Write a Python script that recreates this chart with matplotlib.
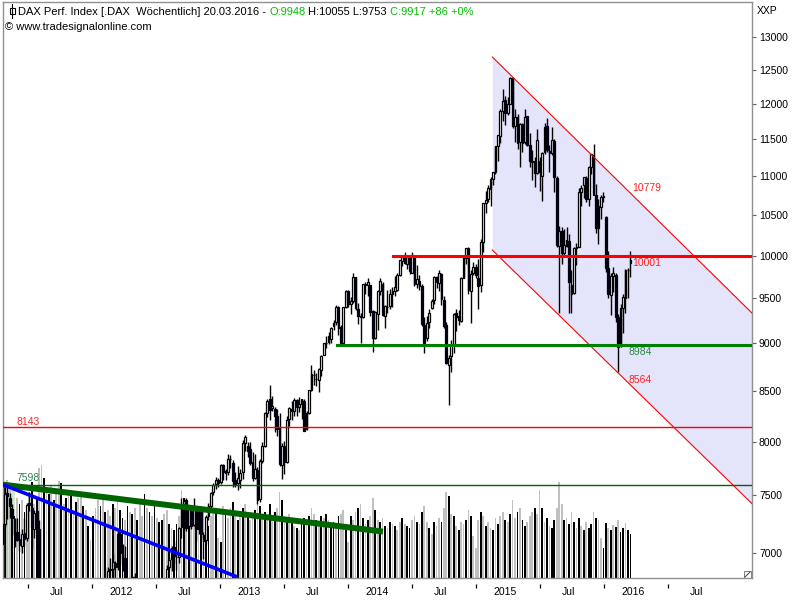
import datetime as dt
import numpy as np
import matplotlib
matplotlib.use("Agg")
import matplotlib.pyplot as plt
import matplotlib.dates as mdates
from matplotlib.lines import Line2D
from matplotlib.patches import Rectangle
from matplotlib.ticker import NullLocator, NullFormatter

plt.rcParams['font.family'] = ['Liberation Sans', 'DejaVu Sans']

# weekly DAX bars, first week starts Monday 2011-04-18
first_monday = dt.date(2011, 4, 18)

opens = [
    # 2011
    7074, 7246, 7520, 7480, 7380, 7290, 7180, 7120, 7060, 7170, 7130, 7430, 7390, 7200, 7360, 7200, 6200, 6000, 5480,
    5540, 5250, 5150, 5500, 5180, 5450, 5700, 5930, 5980, 6300, 5810, 5990, 5780, 5520, 6080, 5990, 5720, 5880,
    # 2012
    5900, 6060, 6150, 6410, 6500, 6770, 6700, 6860, 6870, 6920, 6880, 7160, 7000, 6960, 6770, 6600, 6650, 6800, 6520,
    6560, 6290, 6340, 5970, 6200, 6240, 6260, 6420, 6420, 6560, 6550, 6700, 6880, 6950, 7050, 6970, 6970, 7220, 7420,
    7460, 7230, 7380, 7240, 7370, 7200, 7360, 7150, 7110, 7320, 7410, 7530, 7600, 7640, 7620,
    # 2013
    7780, 7720, 7710, 7840, 7800, 7640, 7610, 7640, 7710, 7990, 7960, 7930, 7810, 7660, 7730, 7470, 7820, 7960, 8280,
    8420, 8330, 8320, 8250, 8140, 7780, 7960, 7810, 8220, 8320, 8300, 8410, 8340, 8370, 8400, 8120, 8280, 8510, 8670,
    8620, 8610, 8720, 8880, 9010, 9020, 9050, 9190, 9240, 9400, 9180, 9000, 9400, 9590,
    # 2014
    9440, 9470, 9750, 9380, 9300, 9290, 9670, 9660, 9650, 9360, 9060, 9320, 9590, 9670, 9300, 9400, 9410, 9550, 9590,
    9600, 9770, 9940, 10000, 9900, 9970, 9800, 9990, 9670, 9700, 9640, 9200, 9060, 9230, 9390, 9480, 9750, 9680, 9780,
    9480, 9200, 8770, 8870, 8980, 9330, 9300, 9250, 9740, 9970, 10090, 9580, 9790, 9870,
    # 2015
    9730, 9650, 10170, 10650, 10700, 10830, 10960, 11060, 11400, 11550, 11900, 12050, 11870, 12000, 12380, 11690,
    11810, 11460, 11710, 11460, 11820, 11420, 11190, 11200, 11040, 11200, 11000, 11320, 11680, 11340, 11310, 11480,
    10980, 10120, 10300, 10030, 10120, 10180, 9650, 9560, 10090, 10110, 10800, 10890, 10980, 10700, 11120, 11290,
    10760, 10340, 10600, 10730,
    # 2016
    10480, 9850, 9540, 9760, 9770, 9290, 8970, 9390, 9510, 9830, 9948,
]
highs = [
    7250, 7527, 7600, 7520, 7420, 7300, 7300, 7180, 7200, 7300, 7430, 7528, 7400, 7370, 7370, 7280, 6250, 6100, 5700,
    5840, 5400, 5530, 5600, 5660, 5700, 5980, 6080, 6400, 6330, 6000, 6150, 5800, 6150, 6180, 6050, 5920, 5930,
    6170, 6200, 6450, 6540, 6770, 6880, 6880, 6960, 7000, 6930, 7190, 7195, 7080, 7060, 6800, 6780, 6820, 6830, 6600,
    6580, 6420, 6420, 6180, 6300, 6400, 6420, 6580, 6560, 6700, 6760, 6900, 6970, 7060, 7100, 7030, 7220, 7480, 7480,
    7480, 7400, 7380, 7480, 7400, 7400, 7400, 7180, 7330, 7430, 7535, 7615, 7670, 7660, 7790,
    7790, 7740, 7880, 7870, 7830, 7710, 7770, 7740, 8020, 8060, 8000, 8000, 7900, 7880, 7760, 7840, 8000, 8290, 8420,
    8560, 8450, 8340, 8320, 8280, 7990, 8010, 8250, 8340, 8400, 8430, 8420, 8440, 8420, 8420, 8300, 8510, 8770, 8720,
    8690, 8740, 8880, 9010, 9080, 9120, 9180, 9260, 9420, 9410, 9200, 9400, 9600, 9600,
    9520, 9790, 9750, 9450, 9330, 9670, 9690, 9730, 9650, 9370, 9360, 9600, 9730, 9690, 9420, 9600, 9610, 9630, 9760,
    9790, 9950, 10010, 10050, 10000, 10000, 10050, 10000, 9890, 9770, 9670, 9290, 9300, 9380, 9490, 9760, 9760, 9830,
    9800, 9530, 9230, 8880, 9040, 9330, 9380, 9370, 9750, 9990, 10090, 10100, 9830, 9920, 9900,
    9960, 10200, 10650, 10810, 10880, 10990, 11060, 11410, 11560, 11930, 12220, 12110, 12100, 12390, 12390, 11920,
    11850, 11720, 11730, 11920, 11830, 11580, 11350, 11250, 11640, 11250, 11330, 11720, 11800, 11420, 11670, 11500,
    11000, 10360, 10350, 10320, 10350, 10260, 9830, 10100, 10150, 10850, 10880, 10990, 11000, 11130, 11300, 11430,
    10900, 10700, 10760, 10800,
    10490, 10060, 9800, 9860, 9790, 9320, 9440, 9550, 9840, 9850, 10055,
]
lows = [
    6995, 7225, 7290, 7300, 7150, 7050, 7100, 7020, 7000, 7060, 7100, 7360, 7030, 7130, 7100, 6100, 5610, 5430, 5300,
    5200, 5090, 4970, 4970, 5150, 5000, 5690, 5800, 5840, 5690, 5620, 5770, 5370, 5510, 5850, 5650, 5600, 5770,
    5880, 6000, 6130, 6300, 6380, 6690, 6640, 6790, 6790, 6620, 6860, 6900, 6850, 6720, 6560, 6500, 6520, 6540, 6450,
    6260, 6250, 5900, 5910, 6050, 6190, 6080, 6400, 6380, 6540, 6300, 6600, 6860, 6850, 6920, 6860, 6920, 7130, 7320,
    7190, 7230, 7200, 7230, 7100, 7160, 7120, 6950, 7080, 7280, 7370, 7500, 7560, 7580, 7600,
    7640, 7640, 7690, 7750, 7580, 7580, 7550, 7570, 7650, 7910, 7850, 7780, 7630, 7650, 7420, 7440, 7800, 7950, 8240,
    8210, 8300, 8090, 8050, 7770, 7650, 7700, 7800, 8150, 8210, 8250, 8250, 8290, 8220, 8110, 8110, 8270, 8500, 8560,
    8550, 8490, 8660, 8880, 8950, 8990, 9000, 9150, 9200, 9090, 8984, 8990, 9390, 9400,
    9320, 9450, 9370, 9210, 9010, 9280, 9550, 9530, 9300, 8910, 9050, 9150, 9540, 9300, 9170, 9340, 9380, 9400, 9530,
    9580, 9760, 9880, 9900, 9840, 9780, 9790, 9640, 9620, 9600, 9190, 8900, 9030, 9170, 9380, 9440, 9620, 9580, 9420,
    9170, 8780, 8355, 8700, 8900, 9140, 9200, 9230, 9730, 9900, 9550, 9220, 9770, 9730,
    9380, 9570, 10040, 10530, 10670, 10620, 10890, 11030, 11200, 11450, 11760, 11700, 11840, 11990, 11660, 11460,
    11370, 11120, 11330, 11440, 11410, 11120, 10950, 10860, 11030, 10810, 10680, 11300, 11320, 11060, 11290, 10800,
    10100, 9340, 9900, 10000, 10100, 9330, 9330, 9550, 9890, 10110, 10620, 10710, 10660, 10620, 11030, 10750,
    10280, 10140, 10450, 10670,
    9810, 9500, 9310, 9570, 9240, 8700, 8960, 9110, 9330, 9500, 9753,
]
closes = [
    7246, 7514, 7492, 7402, 7300, 7163, 7109, 7070, 7164, 7121, 7419, 7419, 7220, 7344, 7158, 6236, 5998, 5480, 5537,
    5246, 5190, 5508, 5164, 5502, 5675, 5934, 5971, 6346, 5807, 5986, 5800, 5493, 6080, 5987, 5702, 5879, 5898,
    6057, 6143, 6404, 6512, 6766, 6692, 6849, 6864, 6921, 6880, 7157, 6996, 6947, 6775, 6583, 6671, 6801, 6561, 6579,
    6271, 6339, 5978, 6130, 6229, 6263, 6416, 6410, 6558, 6630, 6689, 6865, 6945, 7041, 6972, 6970, 7214, 7412, 7451,
    7216, 7398, 7233, 7380, 7203, 7363, 7163, 7101, 7310, 7406, 7518, 7597, 7636, 7612, 7777,
    7715, 7702, 7833, 7833, 7633, 7593, 7661, 7708, 7986, 8043, 7912, 7795, 7658, 7744, 7459, 7814, 7961, 8278, 8398,
    8305, 8348, 8254, 8127, 7789, 7959, 7806, 8212, 8331, 8300, 8410, 8338, 8366, 8416, 8103, 8276, 8510, 8675, 8661,
    8623, 8725, 8870, 9001, 9009, 9079, 9168, 9226, 9405, 9172, 9006, 9400, 9589, 9435,
    9473, 9743, 9393, 9306, 9290, 9663, 9657, 9692, 9350, 9056, 9342, 9588, 9695, 9315, 9409, 9401, 9556, 9581, 9630,
    9768, 9943, 9987, 9912, 9987, 9815, 10009, 9666, 9720, 9644, 9210, 9009, 9225, 9339, 9470, 9747, 9691, 9799, 9490,
    9195, 8788, 8850, 8987, 9326, 9291, 9252, 9732, 9980, 10087, 9594, 9786, 9865, 9765,
    9648, 10167, 10649, 10694, 10846, 10963, 11050, 11401, 11551, 11901, 12040, 11868, 12001, 12375, 11689, 11811,
    11454, 11709, 11448, 11815, 11414, 11198, 11197, 11040, 11492, 11058, 11316, 11673, 11347, 11309, 11490, 10985,
    10124, 10298, 10038, 10123, 10188, 9688, 9553, 10096, 10104, 10795, 10850, 10988, 10708, 11119, 11293, 10752,
    10340, 10608, 10728, 10743,
    9849, 9545, 9764, 9798, 9286, 8967, 9388, 9513, 9824, 9831, 9917,
]

vol_2011 = [85, 92, 98, 88, 70, 62, 80, 74, 78, 66, 72, 86, 96, 74, 80, 110, 113, 100, 88, 84, 92, 78, 88, 97, 95,
            74, 80, 87, 85, 68, 76, 80, 84, 72, 68, 52, 38]
vol_2012 = [62, 70, 78, 72, 80, 66, 68, 62, 74, 70, 82, 68, 60, 58, 72, 66, 64, 70, 58, 76, 62, 84, 70, 66, 62, 74,
            60, 56, 58, 64, 68, 54, 50, 48, 54, 62, 88, 80, 66, 60, 64, 58, 62, 56, 66, 70, 58, 52, 62, 64, 68, 40, 36]
vol_2013 = [72, 64, 60, 70, 76, 62, 58, 66, 70, 74, 62, 58, 64, 68, 80, 72, 60, 66, 58, 74, 62, 66, 70, 86, 78, 62,
            58, 64, 56, 52, 50, 48, 54, 60, 58, 62, 70, 64, 58, 56, 62, 60, 64, 58, 52, 56, 54, 62, 64, 68, 48, 36]
vol_2014 = [62, 58, 66, 70, 74, 60, 54, 58, 62, 80, 68, 58, 56, 60, 52, 50, 56, 54, 52, 48, 56, 60, 54, 52, 50, 58,
            62, 56, 54, 66, 72, 56, 50, 44, 56, 52, 60, 56, 70, 86, 82, 64, 62, 52, 48, 56, 54, 58, 68, 62, 42, 30]
vol_2015 = [58, 66, 62, 52, 56, 50, 48, 60, 54, 62, 66, 58, 56, 64, 78, 60, 66, 70, 58, 52, 56, 62, 66, 70, 64, 88,
            70, 56, 60, 52, 50, 58, 70, 96, 74, 58, 60, 54, 66, 56, 50, 60, 52, 48, 56, 50, 54, 66, 60, 58, 40, 30]
vol_2016 = [55, 50, 48, 53, 51, 58, 46, 50, 55, 48, 44]
# g = grey bar, b = black bar
volcol = ("gbggbbgbgbggbgbggbgbgbggbgbgbgbggbgbg"
          "bggbgbggbggbbgbgbgbggbgbgbgbbggbgbbggbgbggbgbgbbgg" "bgb"
          "gbggbgbgbgbggbgbgbgbgbggbgbgbgbgbbgbggbgbgbgbbgbgg" "bg"
          "bggbgbgbggbgbgbgbgbggbgbbggbgbggbgbggbggbgbgbggbgb" "gg"
          "gbgbggbgbggbgbggbgbbgggbggbgbgbbgggbgbgbgbgbgbbgbg" "gb"
          "bgbgbgbbgbb")
volume = vol_2011 + vol_2012 + vol_2013 + vol_2014 + vol_2015 + vol_2016

# drawn levels and lines
level_8143 = 8143
level_7598 = 7598
level_10001 = 10001
level_8984 = 8984
green_trend = (("2011-04-22", 7598), ("2014-04-10", 7182))
blue_trend = (("2011-04-22", 7598), ("2013-02-18", 6802))
chan_start = "2015-02-16"
chan_upper = (12692, 10779)
chan_lower = (10068, 8564)

n = len(closes)
dates = [first_monday + dt.timedelta(days=7 * i + 2) for i in range(n)]
xs = mdates.date2num(dates)
o = np.array(opens, float)
h = np.array(highs, float)
l = np.array(lows, float)
c = np.array(closes, float)

def d(s):
    return mdates.datestr2num(s)

x_left, x_right = d("2011-04-22"), d("2017-02-26")
y_bot, y_top = 6793, 13557

fig = plt.figure(figsize=(8, 6), dpi=100)
ax = fig.add_axes([3 / 800, 22 / 600, 749 / 800, 576 / 600])
ax2 = ax.twinx()
ax.set_zorder(2)
ax2.set_zorder(1)
ax.patch.set_visible(False)
ax.set_yscale('log')
ax.set_xlim(x_left, x_right)
ax.set_ylim(y_bot, y_top)
ax2.set_ylim(0, 576)
ax2.set_axis_off()

# volume
ax2.bar(xs, volume, width=5, color=['#c0c0c0' if k == 'g' else '#000000' for k in volcol],
        linewidth=0, zorder=2)
ax2.add_patch(Rectangle((x_left, y_bot), d("2011-05-26") - x_left, level_7598 - y_bot,
                        transform=ax.transData, facecolor='#d3e5d3', edgecolor='none', zorder=0))

# channel
x0 = d(chan_start)
x1 = xs[-1]
def ext(a, b):
    s = np.log(b / a) / (x1 - x0)
    return b * np.exp(s * (x_right - x1))
ur = ext(*chan_upper)
lr = ext(*chan_lower)
ax.fill_between([x0, x_right], [chan_upper[0], ur], [chan_lower[0], lr], color='#e4e4fa', lw=0, zorder=0.5)
ax.plot([x0, x_right], [chan_upper[0], ur], color='#ff0000', lw=0.8, zorder=4)
ax.plot([x0, x_right], [chan_lower[0], lr], color='#ff0000', lw=0.8, zorder=4)

# candles
up = c >= o
ax.vlines(xs, l, h, color='black', lw=1.0, zorder=2)
ax.bar(xs[up], (c - o)[up], bottom=o[up], width=5, facecolor='white', edgecolor='black', lw=0.9, zorder=3)
ax.bar(xs[~up], (o - c)[~up], bottom=c[~up], width=5, facecolor='#000010', edgecolor='#000010', lw=0.9, zorder=3)

# horizontal levels
ax.plot([x_left, x_right], [level_8143] * 2, color='#ff0000', lw=1.0, zorder=4)
ax.plot([x_left, x_right], [level_7598] * 2, color='#006400', lw=1.0, zorder=4)
ax.plot([d("2014-05-09"), x_right], [level_10001] * 2, color='#ff0000', lw=2.2, zorder=4)
ax.plot([d("2013-11-30"), x_right], [level_8984] * 2, color='#008000', lw=2.2, zorder=4)

# trend lines
ax.plot([d(green_trend[0][0]), d(green_trend[1][0])], [green_trend[0][1], green_trend[1][1]],
        color='#006400', lw=4.3, solid_capstyle='butt', zorder=5)
ax.plot([d(blue_trend[0][0]), d(blue_trend[1][0])], [blue_trend[0][1], blue_trend[1][1]],
        color='#0000ff', lw=2.6, solid_capstyle='butt', zorder=5)

# value labels
lab_kw = dict(textcoords='offset points', fontsize=7.5, va='center', ha='left', zorder=6)
ax.annotate("10779", (x1, chan_upper[1]), xytext=(1, 4), color='#ff2020', **lab_kw)
ax.annotate("10001", (x1, level_10001), xytext=(1, -5), color='#ff2020', **lab_kw)
ax.annotate("8984", (x1, level_8984), xytext=(-1, -4.7), color='#2a8a4a', **lab_kw)
ax.annotate("8564", (x1, chan_lower[1]), xytext=(-1, 3.6), color='#ff2020', **lab_kw)
ax.annotate("8143", (x_left, level_8143), xytext=(10, 3.6), color='#ff2020', **lab_kw)
ax.annotate("7598", (x_left, level_7598), xytext=(10, 5), color='#2a8a4a', **lab_kw)

# axes styling
for sp in ax.spines.values():
    sp.set_color('#909090')
    sp.set_linewidth(1.0)
ax.yaxis.tick_right()
ax.set_yticks(list(range(7000, 13001, 500)))
ax.set_yticklabels([str(v) for v in range(7000, 13001, 500)])
ax.yaxis.set_minor_locator(NullLocator())
ax.yaxis.set_minor_formatter(NullFormatter())
ax.tick_params(axis='y', which='major', direction='out', length=3, width=0.8, color='#606060',
               labelsize=7.5, pad=2)
ax.set_xticks([])

tick_dates = ["2011-07-01", "2012-01-01", "2012-07-01", "2013-01-01", "2013-07-01", "2014-01-01",
              "2014-07-01", "2015-01-01", "2015-07-01", "2016-01-01", "2016-07-01"]
tick_labels = ["Jul", "2012", "Jul", "2013", "Jul", "2014", "Jul", "2015", "Jul", "2016", "Jul"]
xt = ax.get_xaxis_transform()
for td, tl in zip(tick_dates, tick_labels):
    ax.vlines(d(td), -10 / 576, -6 / 576, transform=xt, color='black', lw=0.9, clip_on=False)
    ax.text(d(td) + 83, -14 / 576, tl, transform=xt, ha='center', va='center', fontsize=7.5, clip_on=False)

fig.text(757 / 800, 1 - 11 / 600, "XXP", fontsize=7.5, va='center', ha='left')

# resize glyph bottom right
fig.add_artist(Rectangle((744 / 800, 22 / 600), 7 / 800, 7 / 600, transform=fig.transFigure,
                         facecolor='white', edgecolor='#808080', lw=0.7))
fig.add_artist(Line2D([745 / 800, 750 / 800], [23 / 600, 28 / 600], transform=fig.transFigure,
                      color='#404040', lw=0.7))

# header icon and text
fig.add_artist(Line2D([12 / 800, 12 / 800], [1 - 4 / 600, 1 - 18 / 600], transform=fig.transFigure,
                      color='black', lw=0.8))
fig.add_artist(Rectangle((9.5 / 800, 1 - 14 / 600), 5 / 800, 6 / 600, transform=fig.transFigure,
                         facecolor='white', edgecolor='black', lw=0.8))

green = '#00c000'
header = [("DAX Perf. Index [.DAX  Wöchentlich] 20.03.2016 -", 'black'), ("O:9948", green),
          ("H:10055 L:9753", 'black'), ("C:9917 +86 +0%", green)]
renderer = fig.canvas.get_renderer()
probe1 = fig.text(0, 0, "a a", fontsize=8)
probe2 = fig.text(0, 0, "aa", fontsize=8)
space_w = probe1.get_window_extent(renderer).width - probe2.get_window_extent(renderer).width
probe1.remove()
probe2.remove()
xpos = 18
for txt, col in header:
    t = fig.text(xpos / 800, 1 - 12 / 600, txt, color=col, fontsize=8, va='center', ha='left')
    xpos += t.get_window_extent(renderer).width + space_w
fig.text(5 / 800, 1 - 27 / 600, "© www.tradesignalonline.com", fontsize=8, va='center', ha='left')

fig.savefig("out.png", dpi=100)
